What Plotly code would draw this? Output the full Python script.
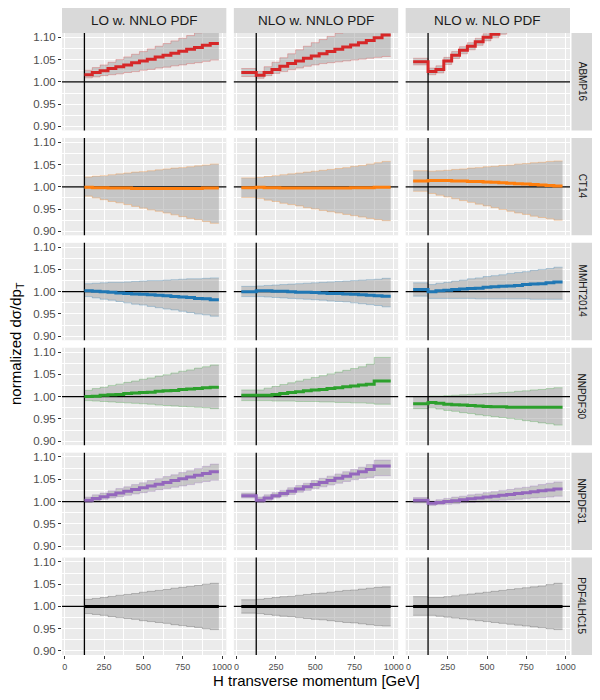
import plotly.graph_objects as go
from plotly.subplots import make_subplots

COLUMNS = ["LO w. NNLO PDF", "NLO w. NNLO PDF", "NLO w. NLO PDF"]
PDF_SETS = ["ABMP16", "CT14", "MMHT2014", "NNPDF30", "NNPDF31", "PDF4LHC15"]
SET_COLORS = ["#d62728", "#ff7f0e", "#1f77b4", "#2ca02c", "#9467bd", "#000000"]
EDGE_COLORS = ["rgba(214,39,40,0.35)", "rgba(255,127,14,0.35)", "rgba(31,119,180,0.35)",
               "rgba(44,160,44,0.35)", "rgba(148,103,189,0.35)", "rgba(0,0,0,0.25)"]

# bin edges [GeV]
EDGES_LO = [125, 175, 225, 275, 325, 375, 425, 475, 525, 575, 625, 675, 725, 775, 825, 875, 925, 980]
EDGES_NLO = [30, 125, 175, 225, 275, 325, 375, 425, 475, 525, 575, 625, 675, 725, 775, 825, 875, 925, 980]

REF_PT = 125
REF_Y = 1.0
X_RANGE = [-17.5, 1027.5]
Y_RANGE = [0.891, 1.1097]
Y_TICKS = [0.90, 0.95, 1.00, 1.05, 1.10]
Y_TICKTEXT = ["0.90", "0.95", "1.00", "1.05", "1.10"]
X_TICKS = [0, 250, 500, 750, 1000]

# ---- ABMP16
ABMP16_LO_MID = [1.016, 1.021, 1.025, 1.030, 1.034, 1.038, 1.043, 1.047, 1.051, 1.056, 1.060, 1.064, 1.069, 1.073, 1.077, 1.082, 1.086]
ABMP16_LO_LOW = [1.009, 1.011, 1.014, 1.016, 1.018, 1.021, 1.023, 1.026, 1.028, 1.031, 1.033, 1.036, 1.038, 1.041, 1.043, 1.046, 1.049]
ABMP16_LO_UP = [1.026, 1.032, 1.038, 1.044, 1.050, 1.056, 1.062, 1.068, 1.074, 1.080, 1.086, 1.092, 1.098, 1.104, 1.110, 1.116, 1.122]
ABMP16_NLO_MID = [1.021, 1.015, 1.021, 1.028, 1.035, 1.041, 1.047, 1.053, 1.058, 1.063, 1.068, 1.073, 1.078, 1.083, 1.088, 1.093, 1.099, 1.105]
ABMP16_NLO_LOW = [1.012, 1.008, 1.014, 1.019, 1.023, 1.027, 1.031, 1.035, 1.038, 1.041, 1.043, 1.045, 1.047, 1.049, 1.051, 1.053, 1.055, 1.057]
ABMP16_NLO_UP = [1.030, 1.024, 1.034, 1.044, 1.054, 1.063, 1.072, 1.080, 1.088, 1.095, 1.102, 1.109, 1.115, 1.121, 1.127, 1.133, 1.139, 1.145]
ABMP16_NLOPDF_MID = [1.045, 1.023, 1.028, 1.047, 1.060, 1.071, 1.080, 1.090, 1.100, 1.107, 1.115, 1.122, 1.129, 1.135, 1.141, 1.147, 1.153, 1.158]
ABMP16_NLOPDF_LOW = [1.038, 1.016, 1.020, 1.039, 1.052, 1.063, 1.072, 1.082, 1.092, 1.099, 1.107, 1.114, 1.121, 1.127, 1.133, 1.139, 1.145, 1.150]
ABMP16_NLOPDF_UP = [1.053, 1.031, 1.036, 1.055, 1.068, 1.079, 1.088, 1.098, 1.108, 1.115, 1.123, 1.130, 1.137, 1.143, 1.149, 1.155, 1.161, 1.166]

# ---- CT14
CT14_LO_MID = [0.999, 0.998, 0.998, 0.997, 0.997, 0.997, 0.996, 0.996, 0.996, 0.996, 0.996, 0.996, 0.996, 0.996, 0.996, 0.997, 0.997]
CT14_LO_LOW = [0.979, 0.975, 0.971, 0.967, 0.964, 0.960, 0.956, 0.952, 0.948, 0.945, 0.941, 0.937, 0.933, 0.929, 0.926, 0.922, 0.918]
CT14_LO_UP = [1.022, 1.024, 1.025, 1.027, 1.029, 1.031, 1.033, 1.034, 1.036, 1.038, 1.040, 1.042, 1.043, 1.045, 1.047, 1.049, 1.051]
CT14_NLO_MID = [0.998, 0.999, 0.998, 0.998, 0.997, 0.997, 0.997, 0.997, 0.997, 0.997, 0.997, 0.997, 0.997, 0.998, 0.998, 0.998, 0.999, 0.999]
CT14_NLO_LOW = [0.976, 0.974, 0.970, 0.967, 0.963, 0.960, 0.957, 0.953, 0.950, 0.947, 0.944, 0.941, 0.938, 0.935, 0.932, 0.929, 0.926, 0.924]
CT14_NLO_UP = [1.020, 1.021, 1.023, 1.025, 1.027, 1.029, 1.031, 1.033, 1.035, 1.037, 1.039, 1.041, 1.043, 1.046, 1.048, 1.051, 1.054, 1.057]
CT14_NLOPDF_MID = [1.013, 1.014, 1.014, 1.014, 1.013, 1.013, 1.012, 1.012, 1.011, 1.010, 1.009, 1.008, 1.007, 1.006, 1.005, 1.004, 1.003, 1.002]
CT14_NLOPDF_LOW = [0.990, 0.985, 0.981, 0.977, 0.973, 0.969, 0.965, 0.961, 0.957, 0.953, 0.949, 0.945, 0.941, 0.938, 0.934, 0.931, 0.928, 0.925]
CT14_NLOPDF_UP = [1.036, 1.035, 1.036, 1.037, 1.039, 1.040, 1.042, 1.043, 1.045, 1.046, 1.048, 1.049, 1.051, 1.052, 1.054, 1.055, 1.057, 1.058]

# ---- MMHT2014
MMHT2014_LO_MID = [1.002, 1.001, 1.000, 0.999, 0.997, 0.996, 0.995, 0.994, 0.993, 0.992, 0.991, 0.989, 0.988, 0.987, 0.985, 0.984, 0.982]
MMHT2014_LO_LOW = [0.989, 0.986, 0.983, 0.981, 0.978, 0.975, 0.972, 0.970, 0.967, 0.964, 0.961, 0.959, 0.956, 0.953, 0.950, 0.948, 0.945]
MMHT2014_LO_UP = [1.018, 1.019, 1.020, 1.021, 1.021, 1.022, 1.023, 1.024, 1.025, 1.025, 1.026, 1.027, 1.028, 1.029, 1.029, 1.030, 1.031]
MMHT2014_NLO_MID = [1.000, 1.002, 1.002, 1.001, 1.001, 1.000, 0.999, 0.999, 0.998, 0.997, 0.996, 0.996, 0.995, 0.994, 0.993, 0.992, 0.991, 0.990]
MMHT2014_NLO_LOW = [0.989, 0.989, 0.988, 0.987, 0.986, 0.985, 0.984, 0.983, 0.982, 0.981, 0.979, 0.978, 0.977, 0.975, 0.973, 0.971, 0.969, 0.966]
MMHT2014_NLO_UP = [1.012, 1.013, 1.014, 1.015, 1.016, 1.017, 1.018, 1.019, 1.020, 1.021, 1.022, 1.023, 1.024, 1.025, 1.026, 1.027, 1.028, 1.030]
MMHT2014_NLOPDF_MID = [1.005, 1.000, 1.002, 1.003, 1.005, 1.006, 1.007, 1.008, 1.010, 1.011, 1.012, 1.013, 1.014, 1.016, 1.017, 1.018, 1.020, 1.022]
MMHT2014_NLOPDF_LOW = [0.990, 0.985, 0.985, 0.985, 0.985, 0.985, 0.985, 0.984, 0.984, 0.984, 0.984, 0.984, 0.984, 0.984, 0.983, 0.983, 0.983, 0.983]
MMHT2014_NLOPDF_UP = [1.020, 1.016, 1.019, 1.021, 1.024, 1.026, 1.029, 1.031, 1.034, 1.036, 1.038, 1.041, 1.043, 1.045, 1.048, 1.050, 1.052, 1.055]

# ---- NNPDF30
NNPDF30_LO_MID = [1.000, 1.001, 1.003, 1.004, 1.005, 1.007, 1.008, 1.009, 1.010, 1.012, 1.013, 1.014, 1.016, 1.017, 1.018, 1.020, 1.021]
NNPDF30_LO_LOW = [0.991, 0.990, 0.989, 0.988, 0.987, 0.986, 0.985, 0.984, 0.983, 0.981, 0.980, 0.979, 0.978, 0.977, 0.976, 0.975, 0.973]
NNPDF30_LO_UP = [1.014, 1.018, 1.021, 1.025, 1.028, 1.032, 1.035, 1.039, 1.042, 1.046, 1.049, 1.053, 1.057, 1.060, 1.064, 1.067, 1.071]
NNPDF30_NLO_MID = [1.003, 1.003, 1.003, 1.005, 1.007, 1.009, 1.011, 1.013, 1.015, 1.016, 1.018, 1.020, 1.022, 1.024, 1.026, 1.028, 1.035, 1.035]
NNPDF30_NLO_LOW = [0.991, 0.991, 0.991, 0.990, 0.990, 0.990, 0.989, 0.989, 0.989, 0.988, 0.988, 0.987, 0.987, 0.986, 0.986, 0.985, 0.983, 0.983]
NNPDF30_NLO_UP = [1.015, 1.015, 1.019, 1.023, 1.027, 1.031, 1.035, 1.039, 1.043, 1.047, 1.051, 1.055, 1.059, 1.063, 1.067, 1.073, 1.088, 1.088]
NNPDF30_NLOPDF_MID = [0.984, 0.987, 0.985, 0.983, 0.982, 0.981, 0.980, 0.979, 0.978, 0.977, 0.977, 0.976, 0.976, 0.976, 0.976, 0.976, 0.976, 0.976]
NNPDF30_NLOPDF_LOW = [0.973, 0.975, 0.972, 0.969, 0.967, 0.964, 0.962, 0.959, 0.957, 0.955, 0.953, 0.951, 0.949, 0.946, 0.944, 0.941, 0.939, 0.936]
NNPDF30_NLOPDF_UP = [1.000, 1.001, 1.001, 1.002, 1.003, 1.004, 1.005, 1.006, 1.007, 1.008, 1.009, 1.010, 1.012, 1.013, 1.015, 1.016, 1.018, 1.020]

# ---- NNPDF31
NNPDF31_LO_MID = [1.003, 1.007, 1.011, 1.015, 1.019, 1.023, 1.027, 1.031, 1.035, 1.039, 1.043, 1.047, 1.051, 1.055, 1.059, 1.063, 1.067]
NNPDF31_LO_LOW = [0.998, 1.001, 1.005, 1.008, 1.011, 1.014, 1.017, 1.020, 1.023, 1.026, 1.029, 1.032, 1.035, 1.038, 1.042, 1.045, 1.048]
NNPDF31_LO_UP = [1.010, 1.015, 1.019, 1.024, 1.029, 1.033, 1.038, 1.042, 1.047, 1.051, 1.056, 1.060, 1.065, 1.069, 1.074, 1.079, 1.084]
NNPDF31_NLO_MID = [1.013, 1.003, 1.008, 1.013, 1.018, 1.023, 1.028, 1.033, 1.038, 1.043, 1.047, 1.052, 1.057, 1.062, 1.067, 1.072, 1.080, 1.080]
NNPDF31_NLO_LOW = [1.008, 0.998, 1.003, 1.008, 1.012, 1.016, 1.021, 1.025, 1.029, 1.033, 1.037, 1.041, 1.045, 1.049, 1.052, 1.054, 1.058, 1.058]
NNPDF31_NLO_UP = [1.019, 1.010, 1.015, 1.020, 1.025, 1.031, 1.036, 1.041, 1.047, 1.052, 1.057, 1.062, 1.067, 1.072, 1.077, 1.083, 1.093, 1.093]
NNPDF31_NLOPDF_MID = [1.003, 0.996, 0.998, 1.000, 1.002, 1.004, 1.006, 1.008, 1.010, 1.012, 1.014, 1.016, 1.018, 1.020, 1.022, 1.024, 1.026, 1.028]
NNPDF31_NLOPDF_LOW = [0.997, 0.991, 0.993, 0.994, 0.995, 0.997, 0.998, 0.999, 1.000, 1.002, 1.003, 1.004, 1.005, 1.007, 1.008, 1.009, 1.010, 1.012]
NNPDF31_NLOPDF_UP = [1.009, 1.001, 1.004, 1.007, 1.010, 1.012, 1.015, 1.017, 1.020, 1.022, 1.025, 1.027, 1.030, 1.032, 1.035, 1.038, 1.041, 1.044]

# ---- PDF4LHC15 (reference set)
PDF4LHC15_LO_MID = [1.000, 1.000, 1.000, 1.000, 1.000, 1.000, 1.000, 1.000, 1.000, 1.000, 1.000, 1.000, 1.000, 1.000, 1.000, 1.000, 1.000]
PDF4LHC15_LO_LOW = [0.984, 0.982, 0.980, 0.977, 0.975, 0.973, 0.971, 0.968, 0.966, 0.964, 0.962, 0.959, 0.957, 0.955, 0.953, 0.950, 0.948]
PDF4LHC15_LO_UP = [1.016, 1.018, 1.020, 1.023, 1.025, 1.027, 1.029, 1.032, 1.034, 1.036, 1.038, 1.041, 1.043, 1.045, 1.047, 1.050, 1.052]
PDF4LHC15_NLO_MID = [1.000, 1.000, 1.000, 1.000, 1.000, 1.000, 1.000, 1.000, 1.000, 1.000, 1.000, 1.000, 1.000, 1.000, 1.000, 1.000, 1.000, 1.000]
PDF4LHC15_NLO_LOW = [0.985, 0.984, 0.982, 0.980, 0.978, 0.977, 0.975, 0.973, 0.971, 0.970, 0.968, 0.966, 0.964, 0.963, 0.961, 0.959, 0.957, 0.956]
PDF4LHC15_NLO_UP = [1.015, 1.016, 1.018, 1.020, 1.022, 1.023, 1.025, 1.027, 1.029, 1.030, 1.032, 1.034, 1.036, 1.037, 1.039, 1.041, 1.043, 1.044]
PDF4LHC15_NLOPDF_MID = [1.000, 1.000, 1.000, 1.000, 1.000, 1.000, 1.000, 1.000, 1.000, 1.000, 1.000, 1.000, 1.000, 1.000, 1.000, 1.000, 1.000, 1.000]
PDF4LHC15_NLOPDF_LOW = [0.980, 0.980, 0.978, 0.976, 0.974, 0.972, 0.970, 0.968, 0.966, 0.964, 0.962, 0.960, 0.958, 0.956, 0.954, 0.952, 0.950, 0.948]
PDF4LHC15_NLOPDF_UP = [1.022, 1.020, 1.020, 1.022, 1.024, 1.026, 1.028, 1.030, 1.032, 1.034, 1.036, 1.038, 1.040, 1.042, 1.044, 1.046, 1.049, 1.052]

TABLE = {
    "ABMP16": [(ABMP16_LO_MID, ABMP16_LO_LOW, ABMP16_LO_UP),
               (ABMP16_NLO_MID, ABMP16_NLO_LOW, ABMP16_NLO_UP),
               (ABMP16_NLOPDF_MID, ABMP16_NLOPDF_LOW, ABMP16_NLOPDF_UP)],
    "CT14": [(CT14_LO_MID, CT14_LO_LOW, CT14_LO_UP),
             (CT14_NLO_MID, CT14_NLO_LOW, CT14_NLO_UP),
             (CT14_NLOPDF_MID, CT14_NLOPDF_LOW, CT14_NLOPDF_UP)],
    "MMHT2014": [(MMHT2014_LO_MID, MMHT2014_LO_LOW, MMHT2014_LO_UP),
                 (MMHT2014_NLO_MID, MMHT2014_NLO_LOW, MMHT2014_NLO_UP),
                 (MMHT2014_NLOPDF_MID, MMHT2014_NLOPDF_LOW, MMHT2014_NLOPDF_UP)],
    "NNPDF30": [(NNPDF30_LO_MID, NNPDF30_LO_LOW, NNPDF30_LO_UP),
                (NNPDF30_NLO_MID, NNPDF30_NLO_LOW, NNPDF30_NLO_UP),
                (NNPDF30_NLOPDF_MID, NNPDF30_NLOPDF_LOW, NNPDF30_NLOPDF_UP)],
    "NNPDF31": [(NNPDF31_LO_MID, NNPDF31_LO_LOW, NNPDF31_LO_UP),
                (NNPDF31_NLO_MID, NNPDF31_NLO_LOW, NNPDF31_NLO_UP),
                (NNPDF31_NLOPDF_MID, NNPDF31_NLOPDF_LOW, NNPDF31_NLOPDF_UP)],
    "PDF4LHC15": [(PDF4LHC15_LO_MID, PDF4LHC15_LO_LOW, PDF4LHC15_LO_UP),
                  (PDF4LHC15_NLO_MID, PDF4LHC15_NLO_LOW, PDF4LHC15_NLO_UP),
                  (PDF4LHC15_NLOPDF_MID, PDF4LHC15_NLOPDF_LOW, PDF4LHC15_NLOPDF_UP)],
}
COLUMN_EDGES = [EDGES_LO, EDGES_NLO, EDGES_NLO]

# the page body adds an 8px offset, so the figure is 8px smaller on each side
W, H = 592, 692
ML, MR, MT, MB = 54, 29.5, 25, 45
PW, PH = W - ML - MR, H - MT - MB
GAP = 7.5

fig = make_subplots(rows=6, cols=3, shared_xaxes=True, shared_yaxes=True,
                    horizontal_spacing=GAP / PW, vertical_spacing=GAP / PH)

FONT = "Liberation Sans, Arial, sans-serif"
BAND_FILL = "rgba(150,150,150,0.45)"


def stepped(edges, vals):
    return list(edges), list(vals) + [vals[-1]]


for r, name in enumerate(PDF_SETS):
    for c in range(3):
        mid, low, up = TABLE[name][c]
        edges = COLUMN_EDGES[c]
        assert len(mid) == len(low) == len(up) == len(edges) - 1, (name, c)
        xs, ylow = stepped(edges, low)
        _, yup = stepped(edges, up)
        _, ymid = stepped(edges, mid)
        row, col = r + 1, c + 1
        fig.add_trace(go.Scatter(x=xs, y=ylow, mode="lines", line_shape="hv",
                                 line=dict(color=EDGE_COLORS[r], width=0.8),
                                 showlegend=False, hoverinfo="skip"), row=row, col=col)
        fig.add_trace(go.Scatter(x=xs, y=yup, mode="lines", line_shape="hv", fill="tonexty",
                                 fillcolor=BAND_FILL,
                                 line=dict(color=EDGE_COLORS[r], width=0.8),
                                 showlegend=False, hoverinfo="skip"), row=row, col=col)
        # reference lines
        fig.add_trace(go.Scatter(x=[REF_PT, REF_PT], y=[Y_RANGE[0] - 1, Y_RANGE[1] + 1], mode="lines",
                                 line=dict(color="black", width=1.3), showlegend=False,
                                 hoverinfo="skip"), row=row, col=col)
        fig.add_trace(go.Scatter(x=[X_RANGE[0] - 1000, X_RANGE[1] + 1000], y=[REF_Y, REF_Y], mode="lines",
                                 line=dict(color="black", width=1.3), showlegend=False,
                                 hoverinfo="skip"), row=row, col=col)
        fig.add_trace(go.Scatter(x=xs, y=ymid, mode="lines", line_shape="hv",
                                 line=dict(color=SET_COLORS[r], width=3),
                                 showlegend=False, hoverinfo="skip"), row=row, col=col)

fig.update_xaxes(range=X_RANGE, tickvals=X_TICKS, showgrid=True, gridcolor="white", gridwidth=1.1,
                 zeroline=False, showline=False, ticks="outside", ticklen=3, tickcolor="#333333",
                 tickwidth=1, tickfont=dict(family=FONT, size=9, color="#4d4d4d"),
                 minor=dict(tickvals=[125, 375, 625, 875], showgrid=True, gridcolor="white",
                            gridwidth=0.5, ticks=""))
fig.update_yaxes(range=Y_RANGE, tickvals=Y_TICKS, ticktext=Y_TICKTEXT, showgrid=True,
                 gridcolor="white", gridwidth=1.1, zeroline=False, showline=False,
                 ticks="outside", ticklen=3, tickcolor="#333333", tickwidth=1,
                 tickfont=dict(family=FONT, size=11.5, color="#4d4d4d"),
                 minor=dict(tickvals=[0.925, 0.975, 1.025, 1.075], showgrid=True,
                            gridcolor="white", gridwidth=0.5, ticks=""))
for r in range(1, 7):
    for c in range(1, 4):
        if c > 1:
            fig.update_yaxes(ticks="", row=r, col=c)
        if r < 6:
            fig.update_xaxes(ticks="", row=r, col=c)

shapes = []
annotations = []
STRIP_H = 26 / PH
for c in range(3):
    dom = fig.layout["xaxis" + ("" if c == 0 else str(c + 1))].domain
    shapes.append(dict(type="rect", xref="paper", yref="paper", x0=dom[0], x1=dom[1],
                       y0=1, y1=1 + STRIP_H, fillcolor="#d9d9d9", line=dict(width=0), layer="below"))
    annotations.append(dict(text=COLUMNS[c], xref="paper", yref="paper", x=(dom[0] + dom[1]) / 2,
                            y=1 + STRIP_H / 2, showarrow=False, xanchor="center", yanchor="middle",
                            font=dict(family=FONT, size=13.5, color="#1a1a1a")))
for r in range(6):
    idx = r * 3 + 1
    dom = fig.layout["yaxis" + ("" if idx == 1 else str(idx))].domain
    x0 = 1 + 1.5 / PW
    x1 = 1 + 22.5 / PW
    shapes.append(dict(type="rect", xref="paper", yref="paper", x0=x0, x1=x1,
                       y0=dom[0], y1=dom[1], fillcolor="#d9d9d9", line=dict(width=0), layer="below"))
    annotations.append(dict(text=PDF_SETS[r], xref="paper", yref="paper", x=(x0 + x1) / 2,
                            y=(dom[0] + dom[1]) / 2, showarrow=False, textangle=90,
                            xanchor="center", yanchor="middle",
                            font=dict(family=FONT, size=10, color="#1a1a1a")))

annotations.append(dict(text="H transverse momentum [GeV]", xref="paper", yref="paper",
                        x=0.5, y=-25 / PH, yanchor="middle", xanchor="center",
                        showarrow=False, font=dict(family=FONT, size=15, color="black")))
annotations.append(dict(text="normalized dσ/dp<sub>T</sub>", xref="paper", yref="paper",
                        x=(8 - ML) / PW, y=0.5, textangle=-90, yanchor="middle", xanchor="center",
                        showarrow=False, font=dict(family=FONT, size=15, color="black")))

fig.update_layout(width=W, height=H, margin=dict(l=ML, r=MR, t=MT, b=MB, pad=0),
                  paper_bgcolor="white", plot_bgcolor="#ebebeb", showlegend=False,
                  shapes=shapes, annotations=annotations)

fig.write_html("out.html")
